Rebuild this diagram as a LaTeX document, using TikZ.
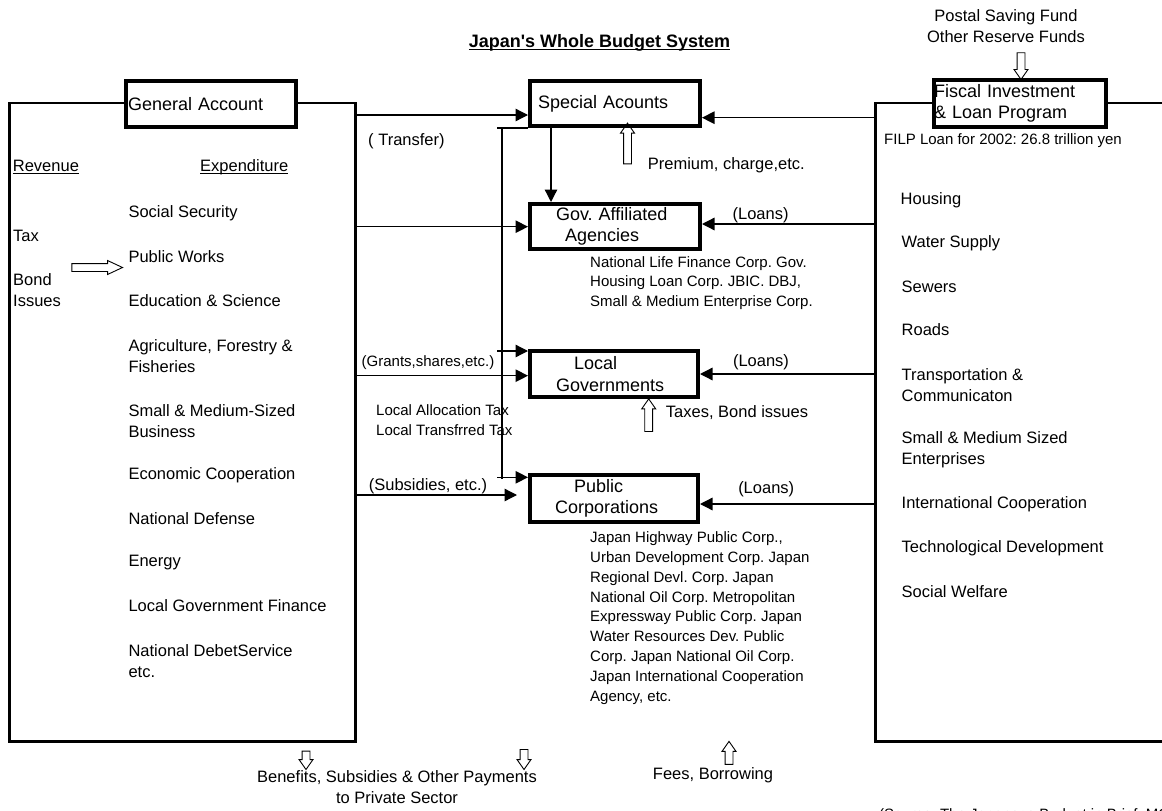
\documentclass[tikz,border=0pt]{standalone}
\usepackage{fontspec}
\setmainfont{Liberation Sans}
\usetikzlibrary{arrows.meta, shapes.arrows}
\frenchspacing
\newcommand{\boxfont}{\fontsize{18}{21.6}\selectfont}
\newcommand{\listfont}{\fontsize{16.5}{21}\selectfont}
\newcommand{\notefont}{\fontsize{15}{19.8}\selectfont}
\newcommand{\undl}[1]{\underline{\raisebox{0pt}[\height][0pt]{#1}}}
\tikzset{
  bigframe/.style = {draw, line width=2.5pt, anchor=north west, inner sep=0pt},
  heavybox/.style = {draw, fill=white, line width=4pt, anchor=north west, inner xsep=0pt, align=left, font=\boxfont},
  txt/.style      = {anchor=west, inner sep=0pt, align=left, font=\listfont},
  smallnote/.style= {anchor=west, inner sep=0pt, align=left, font=\notefont},
  lbl/.style      = {inner sep=0pt, font=\listfont},
  flow/.style     = {line width=1.3pt, -{Triangle[length=12.5pt, width=12.5pt]}},
  link/.style     = {line width=1.3pt},
  hollow/.style   = {single arrow, draw, line width=0.9pt, inner sep=3.5pt, minimum width=0pt,
                     single arrow head extend=3pt, single arrow tip angle=70}
}

\begin{document}
\begin{tikzpicture}[x=1pt, y=-1pt]
\path[use as bounding box, clip] (0,0) rectangle (1162,811);

% outer frames
\node[bigframe, minimum width=346pt, minimum height=638.3pt] (genframe)  at (8.25,101.75) {};
\node[bigframe, minimum width=330pt, minimum height=638.3pt] (filpframe) at (874.25,101.75) {};

% heavy boxes
\node[heavybox, text width=170pt, minimum height=46pt] (ga)   at (124,79)  {\hspace*{2pt}General Account};
\node[heavybox, text width=170pt, minimum height=45pt] (sa)   at (528,79)  {\hspace*{8pt}Special Acounts};
\node[heavybox, text width=170pt, minimum height=45pt] (gaa)  at (528,202) {\hspace*{26pt}Gov. Affiliated\\\hspace*{35pt}Agencies};
\node[heavybox, text width=168pt, minimum height=46pt] (lg)   at (528,349) {\hspace*{44pt}Local\\\hspace*{26pt}Governments};
\node[heavybox, text width=168pt, minimum height=47pt] (pc)   at (528,473) {\hspace*{44pt}Public\\\hspace*{25pt}Corporations};
\node[heavybox, text width=172pt, minimum height=47pt] (filp) at (932,78)  {Fiscal Investment\\\& Loan Program};

\node[font=\bfseries\boxfont] (title) at (599.5,42) {\undl{Japan\textquotesingle s Whole Budget System}};

% general account
\node[txt] (rev)  at (12.7,166.7) {\undl{Revenue}};
\node[txt] (expd) at (200,166.7)  {\undl{Expenditure}};
\node[txt] (tax)  at (13,236)     {Tax};
\node[txt] (bond) at (13,290)     {Bond\\Issues};
\node[hollow, minimum height=50.6pt, single arrow tip angle=50] (taxarrow) at (93,267.5) {};
\node[txt] (socsec)   at (128.3,213)   {Social Security};
\node[txt] (pubworks) at (128.3,257)   {Public Works};
\node[txt] (edu)      at (128.3,300.7) {Education \& Science};
\node[txt] (agri)     at (128.3,355.7) {Agriculture, Forestry \&\\Fisheries};
\node[txt] (smallbiz) at (128.3,420.8) {Small \& Medium-Sized\\Business};
\node[txt] (econ)     at (128.3,475)   {Economic Cooperation};
\node[txt] (defense)  at (128.3,519)   {National Defense};
\node[txt] (energy)   at (128.3,563)   {Energy};
\node[txt] (localfin) at (128.3,606)   {Local Government Finance};
\node[txt] (debt)     at (128.3,660.7) {National DebetService\\etc.};

% fiscal investment & loan program
\node[lbl, align=center] (postal) at (1006,26.5) {Postal Saving Fund\\Other Reserve Funds};
\node[hollow, minimum height=26.7pt, shape border rotate=270] (postarrow) at (1021,63.3) {};
\node[smallnote] (filpnote) at (884,141) {FILP Loan for 2002: 26.8 trillion yen};
\node[txt] (housing)   at (900.5,200.7) {Housing};
\node[txt] (water)     at (901.5,243)   {Water Supply};
\node[txt] (sewers)    at (901.5,286.7) {Sewers};
\node[txt] (roads)     at (901.5,330)   {Roads};
\node[txt] (transport) at (901.5,385)   {Transportation \&\\Communicaton};
\node[txt] (smallent)  at (901.5,450)   {Small \& Medium Sized\\Enterprises};
\node[txt] (intl)      at (901.5,504)   {International Cooperation};
\node[txt] (tech)      at (901.5,548)   {Technological Development};
\node[txt] (welfare)   at (901.5,591.7) {Social Welfare};

% middle column
\node[txt] (transfer) at (368,141.7) {( Transfer)};
\node[hollow, minimum height=40.7pt, shape border rotate=90] (premarrow) at (627.5,146.3) {};
\node[txt] (premium) at (647.7,165) {Premium, charge,etc.};
\node[smallnote] (gaanote) at (590,283) {National Life Finance Corp. Gov.\\Housing Loan Corp. JBIC. DBJ,\\Small \& Medium Enterprise Corp.};
\node[smallnote] (lgnote) at (376,420) {Local Allocation Tax\\Local Transfrred Tax};
\node[hollow, minimum height=32.6pt, shape border rotate=90] (lgarrow) at (648.7,418) {};
\node[txt] (lgtax) at (665.7,412.3) {Taxes, Bond issues};
\node[smallnote] (pcnote) at (590,618) {Japan Highway Public Corp.,\\Urban Development Corp. Japan\\Regional Devl. Corp. Japan\\National Oil Corp. Metropolitan\\Expressway Public Corp. Japan\\Water Resources Dev. Public\\Corp. Japan National Oil Corp.\\Japan International Cooperation\\Agency, etc.};

% private sector
\node[hollow, minimum height=18.4pt, shape border rotate=270] (benarrowA) at (306,757.5) {};
\node[hollow, minimum height=20pt, shape border rotate=270]   (benarrowB) at (524,756.7) {};
\node[hollow, minimum height=23pt, shape border rotate=90]    (feesarrow) at (729,755.7) {};
\node[lbl, align=center] (benefits) at (397,787) {Benefits, Subsidies \& Other Payments\\to Private Sector};
\node[lbl] (fees) at (713,775) {Fees, Borrowing};
\node[smallnote, anchor=base west] (source) at (879,819) {(Source: The Japanese Budget in Brief, MOF)};

% connector rows
\coordinate (yTransfer) at (0,115);
\coordinate (yFilpSa)   at (0,117.7);
\coordinate (yGaaL)     at (0,226.7);
\coordinate (yGaaR)     at (0,224);
\coordinate (yLgL)      at (0,375.7);
\coordinate (yLgR)      at (0,374);
\coordinate (yPcL)      at (0,495);
\coordinate (yPcR)      at (0,504);
\coordinate (yLgT)      at (0,351);
\coordinate (yPcT)      at (0,477.3);
\coordinate (xDrop)     at (551,0);
\coordinate (stub)      at (497,0);
\coordinate (trunk)     at (502,0);
\coordinate (trunkEnd)  at (502,479);

\draw[flow] (genframe.east |- yTransfer) -- (sa.west |- yTransfer);
\draw[flow] (genframe.east |- yGaaL) -- (gaa.west |- yGaaL);
\draw[flow] (genframe.east |- yLgL) -- node[lbl, font=\notefont, above, pos=0.416, yshift=5pt] {(Grants,shares,etc.)} (lg.west |- yLgL);
\draw[flow, shorten >=11pt] (genframe.east |- yPcL) -- node[lbl, above, pos=0.416] {(Subsidies, etc.)} (pc.west |- yPcL);

\draw[flow] (filpframe.west |- yFilpSa) -- (sa.east |- yFilpSa);
\draw[flow] (filpframe.west |- yGaaR) -- node[lbl, above, pos=0.66] {(Loans)} (gaa.east |- yGaaR);
\draw[flow] (filpframe.west |- yLgR) -- node[lbl, above, pos=0.65, yshift=3pt] {(Loans)} (lg.east |- yLgR);
\draw[flow] (filpframe.west |- yPcR) -- node[lbl, above, pos=0.62, yshift=6pt] {(Loans)} (pc.east |- yPcR);

\draw[flow] (sa.south -| xDrop) -- (gaa.north -| xDrop);
\draw[link] (sa.south west) -- (stub |- sa.south west);
\draw[link] (trunk |- sa.south west) -- (trunkEnd);
\draw[flow] (stub |- yLgT) -- (lg.west |- yLgT);
\draw[flow] (stub |- yPcT) -- (pc.west |- yPcT);
\end{tikzpicture}
\end{document}
